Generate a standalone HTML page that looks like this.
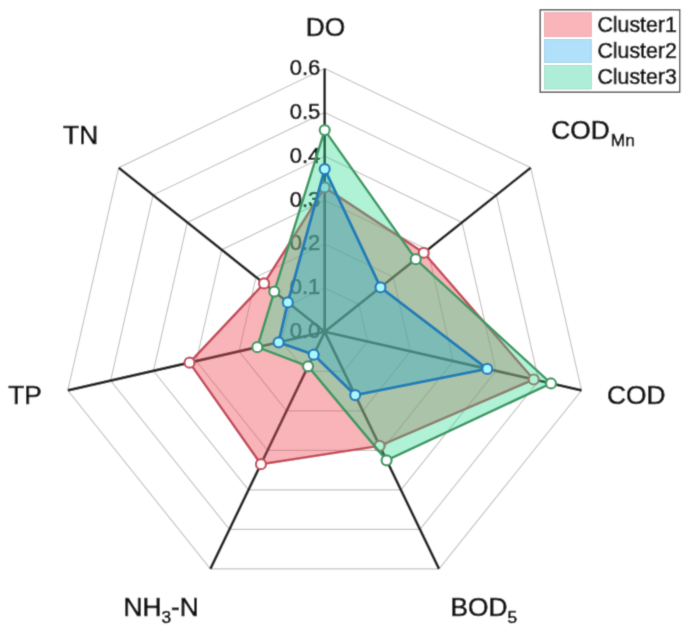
<!DOCTYPE html><html><head><meta charset="utf-8"><style>html,body{margin:0;padding:0;background:#fff;}svg{display:block;}text{font-family:"Liberation Sans",Arial,sans-serif;fill:#111;}.L{stroke:#111;stroke-width:0.7px;}.T{stroke:#111;stroke-width:0.65px;}</style></head><body>
<svg width="685" height="629" viewBox="0 0 685 629">
<defs><filter id="bl" x="0" y="0" width="685" height="629" filterUnits="userSpaceOnUse"><feConvolveMatrix order="5" kernelMatrix="0.00000 0.00013 0.00070 0.00013 0.00000 0.00013 0.01910 0.09973 0.01910 0.00013 0.00070 0.09973 0.52080 0.09973 0.00070 0.00013 0.01910 0.09973 0.01910 0.00013 0.00000 0.00013 0.00070 0.00013 0.00000" edgeMode="duplicate" preserveAlpha="true"/></filter></defs>
<g filter="url(#bl)">
<rect width="685" height="629" fill="#fff"/>
<polygon points="324.70,287.93 359.04,304.45 367.52,341.56 343.75,371.32 305.65,371.32 281.88,341.56 290.36,304.45" fill="none" stroke="#c4c4c4" stroke-width="1.15"/>
<polygon points="324.70,244.07 393.37,277.10 410.33,351.32 362.81,410.85 286.59,410.85 239.07,351.32 256.03,277.10" fill="none" stroke="#c4c4c4" stroke-width="1.15"/>
<polygon points="324.70,200.20 427.71,249.75 453.15,361.08 381.86,450.37 267.54,450.37 196.25,361.08 221.69,249.75" fill="none" stroke="#c4c4c4" stroke-width="1.15"/>
<polygon points="324.70,156.33 462.04,222.40 495.96,370.85 400.92,489.89 248.48,489.89 153.44,370.85 187.36,222.40" fill="none" stroke="#c4c4c4" stroke-width="1.15"/>
<polygon points="324.70,112.47 496.38,195.05 538.78,380.61 419.97,529.41 229.43,529.41 110.62,380.61 153.02,195.05" fill="none" stroke="#c4c4c4" stroke-width="1.15"/>
<polygon points="324.70,68.60 530.71,167.70 581.59,390.37 439.03,568.94 210.37,568.94 67.81,390.37 118.69,167.70" fill="none" stroke="#c4c4c4" stroke-width="1.15"/>
<line x1="324.70" y1="331.80" x2="324.70" y2="68.60" stroke="#1a1a1a" stroke-width="2.70"/>
<line x1="324.70" y1="331.80" x2="530.71" y2="167.70" stroke="#1a1a1a" stroke-width="2.70"/>
<line x1="324.70" y1="331.80" x2="581.59" y2="390.37" stroke="#1a1a1a" stroke-width="2.70"/>
<line x1="324.70" y1="331.80" x2="439.03" y2="568.94" stroke="#1a1a1a" stroke-width="2.70"/>
<line x1="324.70" y1="331.80" x2="210.37" y2="568.94" stroke="#1a1a1a" stroke-width="2.70"/>
<line x1="324.70" y1="331.80" x2="67.81" y2="390.37" stroke="#1a1a1a" stroke-width="2.70"/>
<line x1="324.70" y1="331.80" x2="118.69" y2="167.70" stroke="#1a1a1a" stroke-width="2.70"/>
<text x="320.30" y="338.20" font-size="22" text-anchor="end" class="T">0.0</text>
<text x="320.30" y="294.33" font-size="22" text-anchor="end" class="T">0.1</text>
<text x="320.30" y="250.47" font-size="22" text-anchor="end" class="T">0.2</text>
<text x="320.30" y="206.60" font-size="22" text-anchor="end" class="T">0.3</text>
<text x="320.30" y="162.73" font-size="22" text-anchor="end" class="T">0.4</text>
<text x="320.30" y="118.87" font-size="22" text-anchor="end" class="T">0.5</text>
<text x="320.30" y="75.00" font-size="22" text-anchor="end" class="T">0.6</text>
<polygon points="324.70,187.40 423.76,252.80 533.74,379.51 379.63,445.87 260.95,464.18 189.53,362.65 264.04,283.43" fill="rgb(239,88,97)" fill-opacity="0.450" stroke="#c44a5a" stroke-width="2.50" stroke-linejoin="round"/>
<circle cx="324.70" cy="187.40" r="5.00" fill="#ffffff" stroke="#c44a5a" stroke-width="2.20"/>
<circle cx="423.76" cy="252.80" r="5.00" fill="#ffffff" stroke="#c44a5a" stroke-width="2.20"/>
<circle cx="533.74" cy="379.51" r="5.00" fill="#ffffff" stroke="#c44a5a" stroke-width="2.20"/>
<circle cx="379.63" cy="445.87" r="5.00" fill="#ffffff" stroke="#c44a5a" stroke-width="2.20"/>
<circle cx="260.95" cy="464.18" r="5.00" fill="#ffffff" stroke="#c44a5a" stroke-width="2.20"/>
<circle cx="189.53" cy="362.65" r="5.00" fill="#ffffff" stroke="#c44a5a" stroke-width="2.20"/>
<circle cx="264.04" cy="283.43" r="5.00" fill="#ffffff" stroke="#c44a5a" stroke-width="2.20"/>
<polygon points="324.70,130.10 415.75,259.19 551.01,383.45 386.60,460.34 308.07,366.33 257.32,347.18 274.25,291.57" fill="rgb(43,220,146)" fill-opacity="0.373" stroke="#389862" stroke-width="2.50" stroke-linejoin="round"/>
<circle cx="324.70" cy="130.10" r="5.00" fill="#ffffff" stroke="#389862" stroke-width="2.20"/>
<circle cx="415.75" cy="259.19" r="5.00" fill="#ffffff" stroke="#389862" stroke-width="2.20"/>
<circle cx="551.01" cy="383.45" r="5.00" fill="#ffffff" stroke="#389862" stroke-width="2.20"/>
<circle cx="386.60" cy="460.34" r="5.00" fill="#ffffff" stroke="#389862" stroke-width="2.20"/>
<circle cx="308.07" cy="366.33" r="5.00" fill="#ffffff" stroke="#389862" stroke-width="2.20"/>
<circle cx="257.32" cy="347.18" r="5.00" fill="#ffffff" stroke="#389862" stroke-width="2.20"/>
<circle cx="274.25" cy="291.57" r="5.00" fill="#ffffff" stroke="#389862" stroke-width="2.20"/>
<polygon points="324.70,169.10 380.49,287.31 487.24,368.90 355.19,395.10 313.68,354.69 278.63,342.32 287.83,302.39" fill="rgb(20,172,212)" fill-opacity="0.300" stroke="#1c7db5" stroke-width="2.90" stroke-linejoin="round"/>
<circle cx="324.70" cy="169.10" r="5.00" fill="#aaf6ff" stroke="#1c7db5" stroke-width="2.20"/>
<circle cx="380.49" cy="287.31" r="5.00" fill="#aaf6ff" stroke="#1c7db5" stroke-width="2.20"/>
<circle cx="487.24" cy="368.90" r="5.00" fill="#aaf6ff" stroke="#1c7db5" stroke-width="2.20"/>
<circle cx="355.19" cy="395.10" r="5.00" fill="#aaf6ff" stroke="#1c7db5" stroke-width="2.20"/>
<circle cx="313.68" cy="354.69" r="5.00" fill="#aaf6ff" stroke="#1c7db5" stroke-width="2.20"/>
<circle cx="278.63" cy="342.32" r="5.00" fill="#aaf6ff" stroke="#1c7db5" stroke-width="2.20"/>
<circle cx="287.83" cy="302.39" r="5.00" fill="#aaf6ff" stroke="#1c7db5" stroke-width="2.20"/>
<text class="L" x="325.6" y="35.6" font-size="26.3" text-anchor="middle">DO</text>
<text class="L" x="551.3" y="139.4" font-size="26.3">COD<tspan font-size="17.3" dx="1" dy="7">Mn</tspan></text>
<text class="L" x="607" y="404.3" font-size="26.3">COD</text>
<text class="L" x="450.5" y="616" font-size="26.3">BOD<tspan font-size="17.3" dy="7.3">5</tspan></text>
<text class="L" x="123.4" y="616" font-size="26.3">NH<tspan font-size="17.3" dy="7.3">3</tspan><tspan dy="-7.3">-N</tspan></text>
<text class="L" x="8.3" y="404.4" font-size="26.3">TP</text>
<text class="L" x="63.1" y="144.4" font-size="26.3">TN</text>
<rect x="540.2" y="9.8" width="139.5" height="82.4" fill="#fff" stroke="#444" stroke-width="1.4"/>
<rect x="544.4" y="12.7" width="46.9" height="23.7" fill="#f9b5b9" stroke="#dea2a6" stroke-width="0.8"/>
<rect x="544.4" y="39.5" width="46.9" height="22.9" fill="#b0e0fa" stroke="#9ccbe3" stroke-width="0.8"/>
<rect x="544.4" y="65.6" width="46.9" height="23.4" fill="#aeeed8" stroke="#9bd6c2" stroke-width="0.8"/>
<text class="L" transform="translate(597.5,32.3) scale(1,1.05)" font-size="21.3">Cluster1</text>
<text class="L" transform="translate(597.5,58.3) scale(1,1.05)" font-size="21.3">Cluster2</text>
<text class="L" transform="translate(597.5,84.3) scale(1,1.05)" font-size="21.3">Cluster3</text>
</g></svg></body></html>
